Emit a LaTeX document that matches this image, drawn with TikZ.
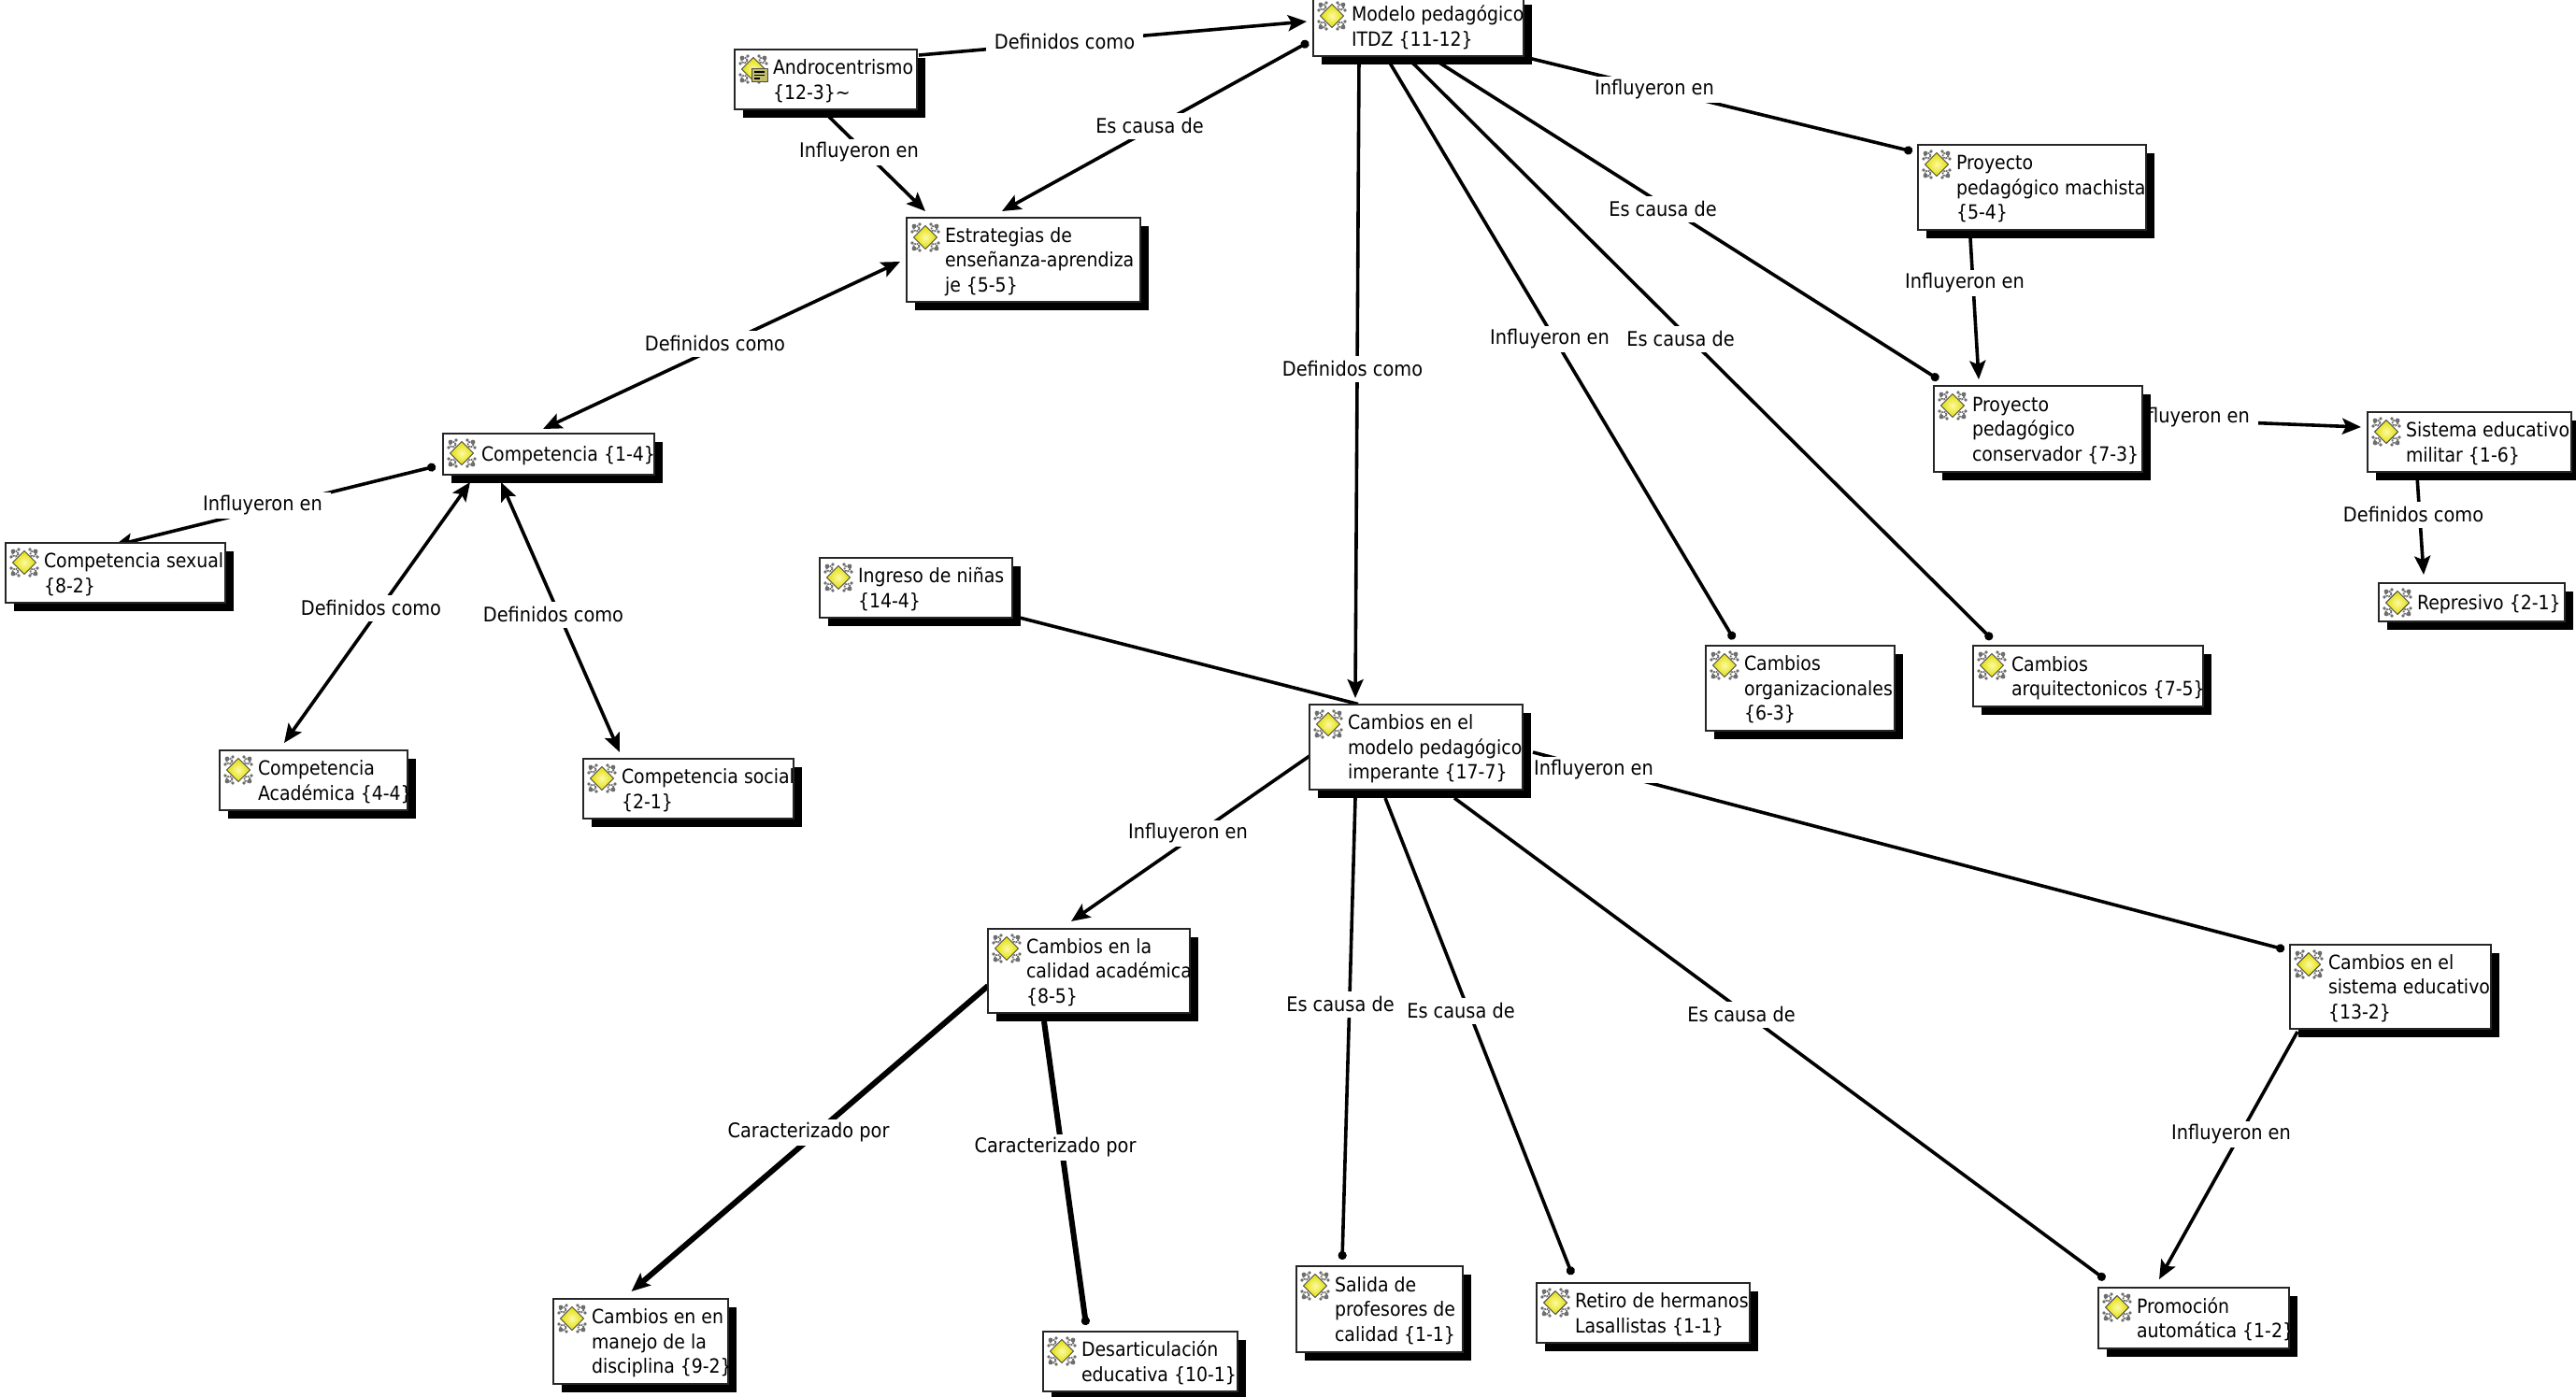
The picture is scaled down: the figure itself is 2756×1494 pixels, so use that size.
\documentclass[tikz,border=0pt]{standalone}
\usepackage{fontspec}
\setmainfont{DejaVu Sans}[FakeStretch=0.9]
\usetikzlibrary{arrows.meta,shadows}
\pgfdeclarelayer{edgelayer}
\pgfdeclarelayer{labellayer}
\pgfsetlayers{edgelayer,labellayer,main}
\definecolor{ornament}{RGB}{110,110,110}
\definecolor{iconyellow}{RGB}{245,240,0}
\newsavebox\conceptlines
\tikzset{
  concept/.style={draw=black!85,line width=2pt,fill=white,inner sep=0pt,outer sep=0pt,anchor=north west,
    font=\fontsize{21}{26.5}\selectfont,
    drop shadow={shadow xshift=9pt,shadow yshift=-9pt,fill=black,opacity=1}},
  linklabel/.style={fill=white,inner xsep=9pt,inner ysep=0pt,minimum height=28pt,yshift=-0.5pt,font=\fontsize{21.5}{27}\selectfont},
  linkline/.style={draw=black,line width=3.6pt},
  heavyline/.style={draw=black,line width=6pt},
  tip/.style={-{Stealth[length=20pt,width=17pt,inset=4pt]}},
  twotip/.style={{Stealth[length=20pt,width=17pt,inset=4pt]}-{Stealth[length=20pt,width=17pt,inset=4pt]}},
  dottip/.style={{Circle[length=9pt,width=9pt]}-{Stealth[length=20pt,width=17pt,inset=4pt]}},
  dotend/.style={-{Circle[length=9pt,width=9pt]}},
}
\newcommand\conceptbox[6]{%
  \pgfmathsetlengthmacro\boxw{#4-#2}%
  \pgfmathsetlengthmacro\boxh{#5-#3}%
  \node[concept,minimum width=\boxw,minimum height=\boxh] (#1) at (#2,#3)
    {\sbox\conceptlines{\begin{tabular}[c]{@{}l@{}}#6\end{tabular}}\makebox[\boxw][l]{\hspace*{41pt}\raisebox{-2.5pt}[\ht\conceptlines][\dp\conceptlines]{\usebox\conceptlines}}};
  \iconat{#2+20}{#3+21}%
}
\newcommand\iconat[2]{%
  \begin{scope}[shift={(#1,#2)}]
    \foreach \sx in {-1,1}\foreach \sy in {-1,1}{
      \draw[ornament,line width=1.8pt,densely dotted] (\sx*9.5,\sy*9.5) circle (3);
      \fill[ornament] (\sx*14,\sy*6) circle (1.9) (\sx*6,\sy*14) circle (1.9);
      \fill[ornament] (\sx*12,\sy*12) circle (2.4);
    }
    \draw[draw=gray!60!black,line width=1pt,inner color=iconyellow!35!white,outer color=iconyellow!92!black]
      (-12.5,0) -- (0,-12.5) -- (12.5,0) -- (0,12.5) -- cycle;
  \end{scope}%
}
\begin{document}
\begin{tikzpicture}[x=1pt,y=-1pt]
\useasboundingbox (0,0) rectangle (2756,1494);
\conceptbox{modelo}{1405}{-4}{1630}{60}{Modelo pedagógico\\ITDZ \{11-12\}}
\conceptbox{andro}{786}{53}{981}{117}{Androcentrismo\\\{12-3\}\textasciitilde}
\begin{scope}[shift={(804,73)}]
  \draw[draw=black!70,fill=yellow!45!gray,line width=1pt] (0,0) rectangle (17,14);
  \draw[black,line width=1.2pt] (3,4) -- (14,4) (3,7.5) -- (14,7.5) (3,11) -- (9,11);
\end{scope}
\conceptbox{estr}{970}{233}{1220}{323}{Estrategias de\\enseñanza-aprendiza\\je \{5-5\}}
\conceptbox{comp}{474}{464}{700}{508}{Competencia \{1-4\}}
\conceptbox{csex}{6}{581}{241}{645}{Competencia sexual\\\{8-2\}}
\conceptbox{caca}{235}{803}{436}{867}{Competencia\\Académica \{4-4\}}
\conceptbox{csoc}{624}{812}{849}{876}{Competencia social\\\{2-1\}}
\conceptbox{ingr}{877}{597}{1083}{661}{Ingreso de niñas\\\{14-4\}}
\conceptbox{cmod}{1401}{754}{1629}{845}{Cambios en el\\modelo pedagógico\\imperante \{17-7\}}
\conceptbox{ccal}{1057}{994}{1273}{1084}{Cambios en la\\calidad académica\\\{8-5\}}
\conceptbox{cman}{592}{1390}{779}{1481}{Cambios en en\\manejo de la\\disciplina \{9-2\}}
\conceptbox{desa}{1116}{1425}{1324}{1489}{Desarticulación\\educativa \{10-1\}}
\conceptbox{sali}{1387}{1355}{1565}{1447}{Salida de\\profesores de\\calidad \{1-1\}}
\conceptbox{reti}{1644}{1373}{1872}{1437}{Retiro de hermanos\\Lasallistas \{1-1\}}
\conceptbox{prom}{2245}{1378}{2449}{1443}{Promoción\\automática \{1-2\}}
\conceptbox{csis}{2450}{1011}{2665}{1101}{Cambios en el\\sistema educativo\\\{13-2\}}
\conceptbox{pmac}{2052}{155}{2296}{246}{Proyecto\\pedagógico machista\\\{5-4\}}
\conceptbox{pcon}{2069}{413}{2292}{505}{Proyecto\\pedagógico\\conservador \{7-3\}}
\conceptbox{smil}{2533}{441}{2751}{505}{Sistema educativo\\militar \{1-6\}}
\conceptbox{repr}{2545}{624}{2744}{665}{Represivo \{2-1\}}
\conceptbox{corg}{1825}{691}{2027}{782}{Cambios\\organizacionales\\\{6-3\}}
\conceptbox{carq}{2111}{691}{2357}{756}{Cambios\\arquitectonicos \{7-5\}}

\begin{pgfonlayer}{edgelayer}
\draw[linkline,tip] ([shift={(99.5,-26)}]andro.center) -- ([shift={(-119.5,-5)}]modelo.center);
\draw[linkline,tip] ([shift={(3.5,40)}]andro.center) -- ([shift={(-105,-52)}]estr.center);
\draw[linkline,dottip] ([shift={(-117.5,17)}]modelo.center) -- ([shift={(-23,-52)}]estr.center);
\draw[linkline,twotip] ([shift={(-132,2)}]estr.center) -- ([shift={(-6,-27)}]comp.center);
\draw[linkline,dottip] ([shift={(-121,13)}]comp.center) -- ([shift={(-1.5,-29)}]csex.center);
\draw[linkline,twotip] ([shift={(-84,30)}]comp.center) -- ([shift={(-31.5,-40)}]caca.center);
\draw[linkline,twotip] ([shift={(-51,30)}]comp.center) -- ([shift={(-73.5,-39)}]csoc.center);
\draw[linkline,tip] ([shift={(-63.5,32)}]modelo.center) -- ([shift={(-65,-52.5)}]cmod.center);
\draw[linkline,dotend] ([shift={(-32.5,36)}]modelo.center) -- ([shift={(-71,-52.5)}]corg.center);
\draw[linkline,dotend] ([shift={(-9.5,36)}]modelo.center) -- ([shift={(-103,-39.5)}]carq.center);
\draw[linkline,dotend] ([shift={(17.5,36)}]modelo.center) -- ([shift={(-106.5,-53)}]pcon.center);
\draw[linkline,dotend] ([shift={(117.5,34)}]modelo.center) -- ([shift={(-128,-38.5)}]pmac.center);
\draw[linkline,tip] ([shift={(-66,54.5)}]pmac.center) -- ([shift={(-63.5,-53)}]pcon.center);
\draw[linkline,tip] ([shift={(115.5,-11)}]pcon.center) -- ([shift={(-116,-16)}]smil.center);
\draw[linkline,tip] ([shift={(-56,37)}]smil.center) -- ([shift={(-51.5,-29.5)}]repr.center);
\draw[linkline] ([shift={(103,30)}]ingr.center) -- ([shift={(-62,-46)}]cmod.center);
\draw[linkline,tip] ([shift={(-114,9.5)}]cmod.center) -- ([shift={(-19,-53)}]ccal.center);
\draw[linkline,dotend] ([shift={(-65,54.5)}]cmod.center) -- ([shift={(-40,-53)}]sali.center);
\draw[linkline,dotend] ([shift={(-33,54.5)}]cmod.center) -- ([shift={(-76,-41)}]reti.center);
\draw[linkline,dotend] ([shift={(41,54.5)}]cmod.center) -- ([shift={(-95,-41.5)}]prom.center);
\draw[linkline,dotend] ([shift={(125,5.5)}]cmod.center) -- ([shift={(-113.5,-40)}]csis.center);
\draw[linkline,tip] ([shift={(-99.5,48)}]csis.center) -- ([shift={(-37,-41.5)}]prom.center);
\draw[heavyline,tip] ([shift={(-108,16)}]ccal.center) -- ([shift={(-10,-53.5)}]cman.center);
\draw[heavyline,dotend] ([shift={(-48,54)}]ccal.center) -- ([shift={(-58,-39)}]desa.center);
\end{pgfonlayer}

\begin{pgfonlayer}{labellayer}
\node[linklabel] (l1) at (1139,44) {Definidos como};
\node[linklabel] (l2) at (919,162) {Influyeron en};
\node[linklabel] (l3) at (1230,134) {Es causa de};
\node[linklabel] (l4) at (765,367) {Definidos como};
\node[linklabel] (l5) at (281,540) {Influyeron en};
\node[linklabel] (l6) at (397,650) {Definidos como};
\node[linklabel] (l7) at (592,657) {Definidos como};
\node[linklabel] (l8) at (1447,394) {Definidos como};
\node[linklabel] (l9) at (1658,362) {Influyeron en};
\node[linklabel] (l10) at (1798,362) {Es causa de};
\node[linklabel] (l11) at (1779,223) {Es causa de};
\node[linklabel] (l12) at (1770,95) {Influyeron en};
\node[linklabel] (l13) at (2102,302) {Influyeron en};
\node[linklabel] (l14) at (2343,446) {Influyeron en};
\node[linklabel] (l15) at (2582,550) {Definidos como};
\node[linklabel] (l16) at (1271,891) {Influyeron en};
\node[linklabel] (l17) at (1434,1074) {Es causa de};
\node[linklabel] (l18) at (1563,1081) {Es causa de};
\node[linklabel] (l19) at (1863,1085) {Es causa de};
\node[linklabel] (l20) at (1705,823) {Influyeron en};
\node[linklabel] (l21) at (2387,1213) {Influyeron en};
\node[linklabel] (l22) at (865,1211) {Caracterizado por};
\node[linklabel] (l23) at (1129,1227) {Caracterizado por};
\end{pgfonlayer}
\end{tikzpicture}
\end{document}
